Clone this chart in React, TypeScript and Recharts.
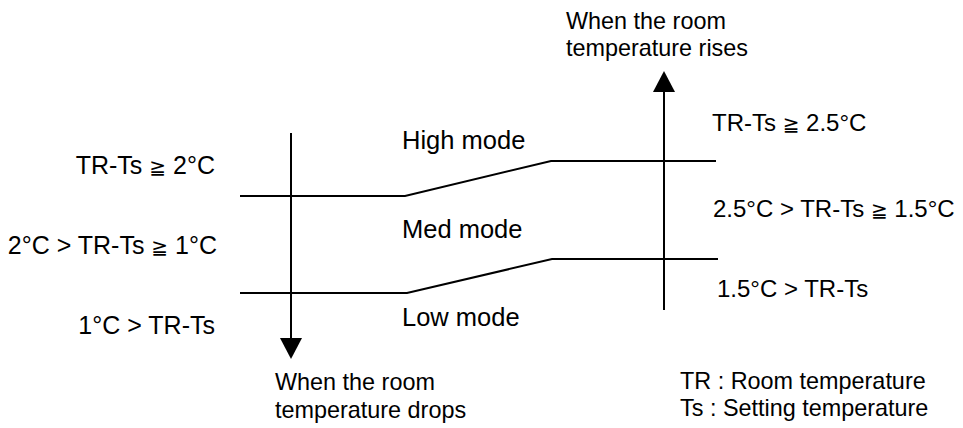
import { ComposedChart, Line, Scatter, XAxis, YAxis } from 'recharts';

// diagram space is laid out in pixel-like units (y grows downward)
const W = 963;
const H = 428;

// threshold lines between the fan modes
const upperX = [240, 405, 551, 716];
const upperY = [196, 196, 161, 161];
const lowerX = [240, 407, 552, 718];
const lowerY = [293, 293, 259, 259];

// arrows: shaft start/end, tip direction
const dropArrowX = [291, 291];
const dropArrowY = [133, 345];
const riseArrowX = [664, 664];
const riseArrowY = [310, 88];
const arrowTips = [
  { x: 291, y: 359, dir: 'down' },
  { x: 664, y: 71, dir: 'up' },
];

const labelTexts = [
  'When the room', 'temperature rises',
  'TR-Ts ≧ 2.5°C', '2.5°C > TR-Ts ≧ 1.5°C', '1.5°C > TR-Ts',
  'High mode', 'Med mode', 'Low mode',
  'TR-Ts ≧ 2°C', '2°C > TR-Ts ≧ 1°C', '1°C > TR-Ts',
  'When the room', 'temperature drops',
  'TR : Room temperature', 'Ts : Setting temperature',
];
const labelX = [566, 566, 712, 713, 717, 402, 402, 402, 215, 217, 215, 275, 275, 680, 680];
const labelY = [29, 56, 131, 217, 297, 149, 238, 326, 174, 254, 334, 390, 418, 389, 416];
const labelSize = [23.4, 23.4, 24, 24, 24, 25.5, 25.5, 25.5, 25, 25, 25, 23.4, 23.4, 23.4, 23.4];
const labelAnchor = ['start', 'start', 'start', 'start', 'start', 'start', 'start', 'start', 'end', 'end', 'end', 'start', 'start', 'start', 'start'];

const toPoints = (xs: number[], ys: number[]) => xs.map((x, i) => ({ x, y: ys[i] }));

const labels = labelTexts.map((text, i) => ({
  x: labelX[i], y: labelY[i], text, size: labelSize[i], anchor: labelAnchor[i],
}));

// the ≧ sign is narrow in the original, so set it a little smaller
const renderText = (text: string) =>
  text.split('≧').flatMap((part, i) =>
    i === 0
      ? [part]
      : [
          <tspan key={i} fontSize={20} fontFamily="'DejaVu Sans', sans-serif">≧</tspan>,
          part,
        ]
  );

const TextShape = (props: any) => {
  const { cx, cy, payload } = props;
  return (
    <text
      x={cx}
      y={cy}
      textAnchor={payload.anchor}
      fontSize={payload.size}
      fontFamily="'Liberation Sans', Arial, sans-serif"
      fill="#000"
    >
      {renderText(payload.text)}
    </text>
  );
};

const ArrowHead = (props: any) => {
  const { cx, cy, payload } = props;
  const half = 11;
  const len = 21;
  const baseY = payload.dir === 'down' ? cy - len : cy + len;
  return <polygon points={`${cx},${cy} ${cx - half},${baseY} ${cx + half},${baseY}`} fill="#000" />;
};

export default function App() {
  return (
    <div style={{ position: 'absolute', left: 0, top: 0, background: '#fff' }}>
      <ComposedChart width={W} height={H} margin={{ top: 0, right: 0, bottom: 0, left: 0 }}>
        <XAxis type="number" dataKey="x" domain={[0, W]} hide />
        <YAxis type="number" dataKey="y" domain={[0, H]} reversed hide />
        <Line data={toPoints(upperX, upperY)} dataKey="y" stroke="#000" strokeWidth={2} dot={false} isAnimationActive={false} />
        <Line data={toPoints(lowerX, lowerY)} dataKey="y" stroke="#000" strokeWidth={2} dot={false} isAnimationActive={false} />
        <Line data={toPoints(dropArrowX, dropArrowY)} dataKey="y" stroke="#000" strokeWidth={2} dot={false} isAnimationActive={false} />
        <Line data={toPoints(riseArrowX, riseArrowY)} dataKey="y" stroke="#000" strokeWidth={2} dot={false} isAnimationActive={false} />
        <Scatter data={arrowTips} dataKey="y" shape={ArrowHead} isAnimationActive={false} />
        <Scatter data={labels} dataKey="y" shape={TextShape} isAnimationActive={false} />
      </ComposedChart>
    </div>
  );
}
